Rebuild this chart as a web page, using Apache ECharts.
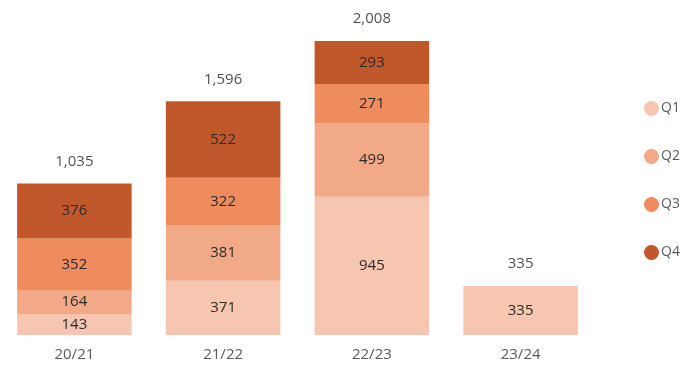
<!DOCTYPE html>
<html>
<head>
<meta charset="utf-8">
<script src="https://cdn.jsdelivr.net/npm/echarts@6/dist/echarts.min.js"></script>
<style>
  html, body { margin: 0; padding: 0; background: #fff; }
  #chart { width: 695px; height: 377px; }
</style>
</head>
<body>
<div id="chart"></div>
<script>
// Seasons on the x axis
const seasons = ['20/21', '21/22', '22/23', '23/24'];
// Quarterly values per season (null = no data yet)
const q1 = [143, 371, 945, 335];
const q2 = [164, 381, 499, null];
const q3 = [352, 322, 271, null];
const q4 = [376, 522, 293, null];
const quarterNames = ['Q1', 'Q2', 'Q3', 'Q4'];
const quarterColors = ['#F6C6B0', '#F2A987', '#EE8C5E', '#C0582B'];

// Season totals shown above each stack
const totals = seasons.map((_, i) =>
  [q1, q2, q3, q4].reduce((s, arr) => s + (arr[i] || 0), 0));

const font = 'Open Sans, Noto Sans, sans-serif';
const quarterData = [q1, q2, q3, q4];

const barSeries = quarterNames.map((name, k) => ({
  name: name,
  type: 'bar',
  stack: 'season',
  barCategoryGap: '23%',
  data: quarterData[k],
  itemStyle: { color: quarterColors[k] },
  label: {
    show: true,
    position: 'inside',
    color: '#2b2b2b',
    fontFamily: font,
    fontSize: 15,
    formatter: p => p.value == null ? '' : p.value.toLocaleString('en-US')
  },
  emphasis: { disabled: true }
}));

// Invisible points carrying the total labels
const totalSeries = {
  name: 'Total',
  type: 'scatter',
  data: totals,
  symbol: 'circle',
  symbolSize: 1,
  itemStyle: { color: 'rgba(0,0,0,0)' },
  label: {
    show: true,
    position: 'top',
    distance: 14,
    color: '#1f1f1f',
    fontFamily: font,
    fontSize: 15,
    formatter: p => p.value.toLocaleString('en-US')
  },
  silent: true,
  clip: false
};

const chart = echarts.init(document.getElementById('chart'), null, { renderer: 'canvas' });
chart.setOption({
  animation: false,
  grid: { left: 0, right: 100, top: 41, bottom: 42, containLabel: false },
  legend: {
    data: quarterNames,
    orient: 'vertical',
    left: 639,
    top: 96,
    icon: 'circle',
    itemWidth: 15,
    itemHeight: 15,
    itemGap: 33,
    textStyle: { color: '#595959', fontFamily: font, fontSize: 14, padding: [0, 0, 0, -3] }
  },
  xAxis: {
    type: 'category',
    data: seasons,
    axisLine: { show: false },
    axisTick: { show: false },
    axisLabel: { color: '#595959', fontFamily: font, fontSize: 15, margin: 12 }
  },
  yAxis: {
    type: 'value',
    min: 0,
    max: 2008,
    show: false,
    splitLine: { show: false }
  },
  series: [...barSeries, totalSeries]
});
</script>
</body>
</html>
